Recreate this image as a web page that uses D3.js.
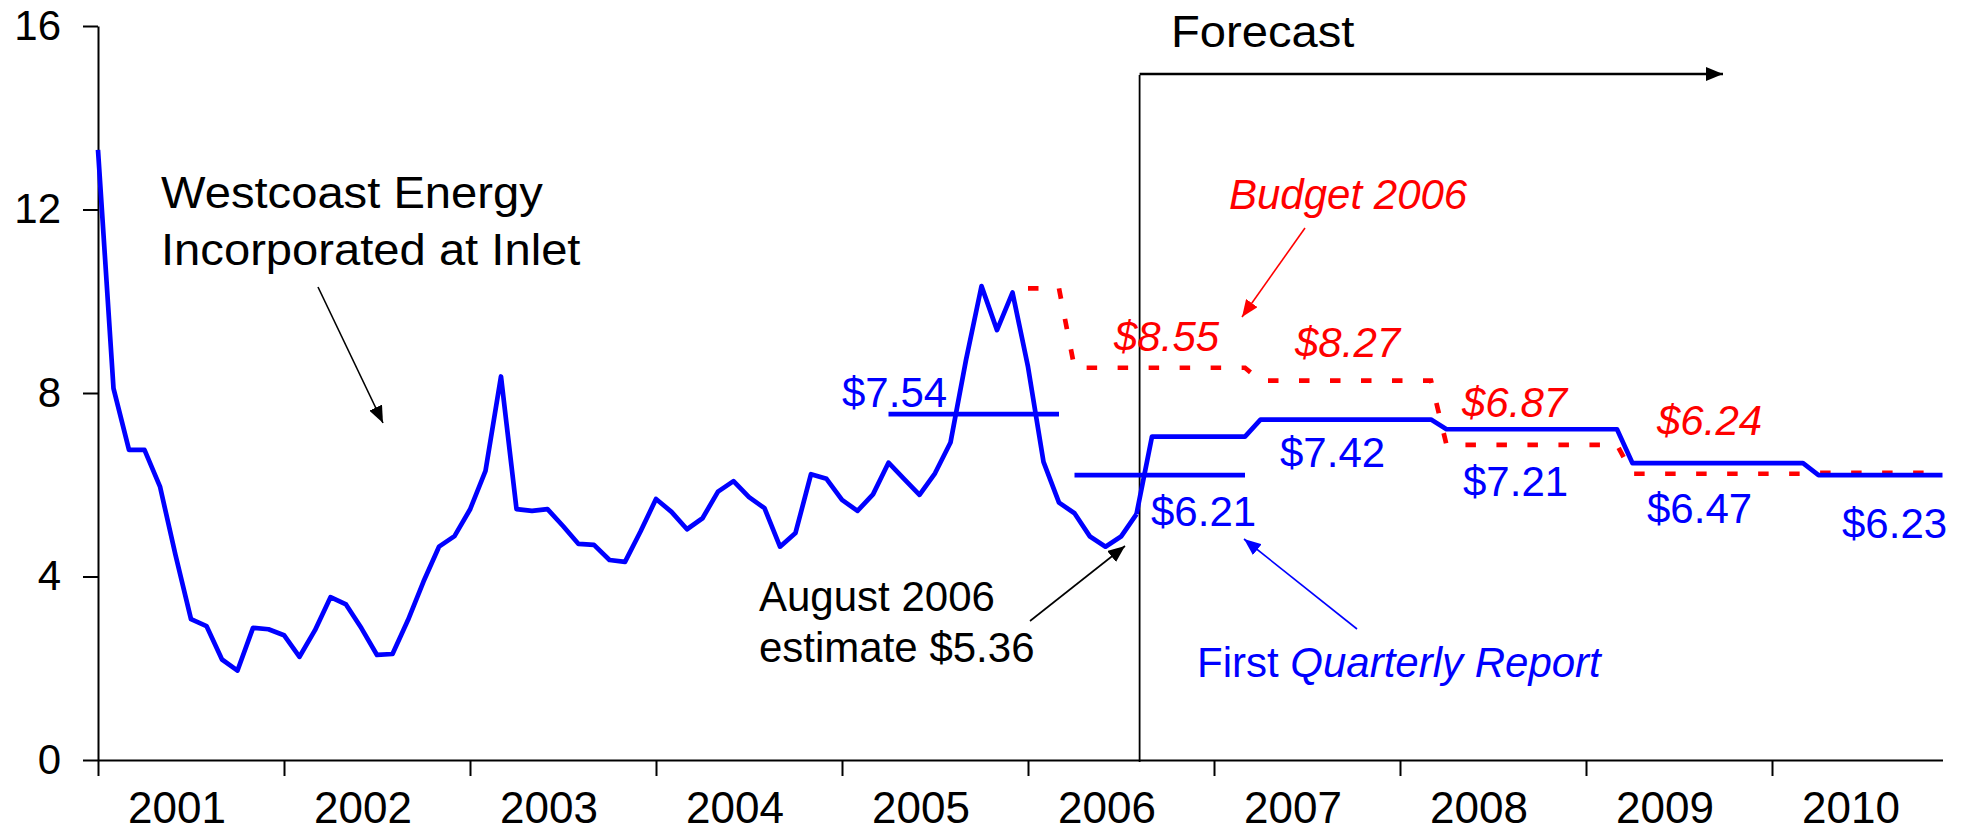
<!DOCTYPE html>
<html>
<head>
<meta charset="utf-8">
<script src="https://cdnjs.cloudflare.com/ajax/libs/d3/7.8.5/d3.min.js"></script>
<style>
  body { margin: 0; background: #fff; }
  text { font-family: "Liberation Sans", Arial, sans-serif; }
</style>
</head>
<body>
<script>
// monthly price, Jan 2001 .. Aug 2006 (index = months since Jan 2001)
const actual = [13.3, 8.1, 6.76, 6.76, 5.96, 4.47, 3.07, 2.92, 2.19, 1.95, 2.88, 2.85,
  2.72, 2.25, 2.83, 3.55, 3.39, 2.87, 2.29, 2.31, 3.05, 3.89, 4.65, 4.88,
  5.46, 6.3, 8.36, 5.47, 5.43, 5.47, 5.1, 4.71, 4.69, 4.36, 4.32, 4.98,
  5.69, 5.41, 5.03, 5.27, 5.85, 6.08, 5.73, 5.49, 4.65, 4.95, 6.23, 6.13,
  5.67, 5.43, 5.79, 6.48, 6.13, 5.78, 6.25, 6.92, 8.72, 10.33, 9.37, 10.19,
  8.57, 6.5, 5.61, 5.38, 4.87, 4.65, 4.87, 5.36]

// first quarterly report forecast (step breakpoints)
const fcMonths = [67, 68, 74, 75, 86, 87, 98, 99, 110, 111, 119]
const fcValues = [5.36, 7.05, 7.05, 7.42, 7.42, 7.21, 7.21, 6.47, 6.47, 6.21, 6.21]

// budget 2006 forecast
const budMonths = [60, 62, 63, 74, 75, 86, 87, 98, 99, 110, 111, 119]
const budValues = [10.28, 10.28, 8.55, 8.55, 8.27, 8.27, 6.87, 6.87, 6.24, 6.24, 6.26, 6.26]

// fiscal year averages
const avgStart = [51, 63]
const avgEnd = [62, 74]
const avgValues = [7.54, 6.21]

const years = ['2001', '2002', '2003', '2004', '2005', '2006', '2007', '2008', '2009', '2010']
const yTicks = [0, 4, 8, 12, 16]

var width = 1967, height = 832
var blue = '#0000ff', red = '#ff0000'

var svg = d3.select('body').append('svg')
  .attr('width', width)
  .attr('height', height)

var x = d3.scaleLinear().domain([0, 119]).range([98, 1942.5])
var y = d3.scaleLinear().domain([0, 16]).range([760, 26])

// arrow heads
var defs = svg.append('defs')
function head(id, color, w, l) {
  defs.append('marker')
    .attr('id', id)
    .attr('markerUnits', 'userSpaceOnUse')
    .attr('markerWidth', l).attr('markerHeight', w)
    .attr('refX', l).attr('refY', w / 2)
    .attr('orient', 'auto')
    .append('path')
    .attr('d', 'M0,0L' + l + ',' + (w / 2) + 'L0,' + w + 'Z')
    .attr('fill', color)
}
head('hb', 'black', 14, 17)
head('hr', red, 14, 17)
head('hu', blue, 14, 17)

// axes
var yAxis = d3.axisLeft(y).tickValues(yTicks).tickSize(15).tickSizeOuter(0).tickPadding(22)
var gy = svg.append('g').attr('transform', 'translate(' + x(0) + ',0)').call(yAxis)
gy.selectAll('text').attr('font-size', 42).attr('fill', 'black')
  .style('font-family', '"Liberation Sans", Arial, sans-serif')

var xAxis = d3.axisBottom(x).tickValues(d3.range(0, 109, 12)).tickFormat('').tickSize(16).tickSizeOuter(0)
var gx = svg.append('g').attr('transform', 'translate(0,' + y(0) + ')').call(xAxis)

svg.selectAll('.domain, .tick line').attr('stroke', 'black').attr('stroke-width', 2)

svg.append('g').selectAll('text').data(years).join('text')
  .attr('x', (d, i) => x(i * 12 + 5.1))
  .attr('y', 823)
  .attr('text-anchor', 'middle')
  .attr('font-size', 44)
  .text(d => d)

// forecast marker line + arrow
svg.append('line')
  .attr('x1', x(67.2)).attr('x2', x(67.2))
  .attr('y1', 75).attr('y2', 762)
  .attr('stroke', 'black').attr('stroke-width', 1.8)
svg.append('line')
  .attr('x1', x(67.2)).attr('x2', 1723)
  .attr('y1', 74).attr('y2', 74)
  .attr('stroke', 'black').attr('stroke-width', 2.6)
  .attr('marker-end', 'url(#hb)')

// lines
var line = d3.line().x(d => x(d[0])).y(d => y(d[1]))

svg.append('path')
  .datum(budMonths.map((m, i) => [m, budValues[i]]))
  .attr('d', line)
  .attr('fill', 'none').attr('stroke', red).attr('stroke-width', 4.7)
  .attr('stroke-dasharray', '10.5,20.5')

svg.append('path')
  .datum(actual.map((v, i) => [i, v]))
  .attr('d', line)
  .attr('fill', 'none').attr('stroke', blue).attr('stroke-width', 4.7)
  .attr('stroke-linejoin', 'round')

svg.append('path')
  .datum(fcMonths.map((m, i) => [m, fcValues[i]]))
  .attr('d', line)
  .attr('fill', 'none').attr('stroke', blue).attr('stroke-width', 4.7)
  .attr('stroke-linejoin', 'round')

svg.append('g').selectAll('line').data(avgValues).join('line')
  .attr('x1', (d, i) => x(avgStart[i])).attr('x2', (d, i) => x(avgEnd[i]))
  .attr('y1', d => y(d)).attr('y2', d => y(d))
  .attr('stroke', blue).attr('stroke-width', 4.7)

// annotations (sx = horizontal stretch, the source text is a bit wide)
function label(txt, px, py, color, size, italic, sx) {
  return svg.append('text')
    .attr('transform', 'translate(' + px + ',' + py + ') scale(' + (sx || 1) + ',1)')
    .attr('font-size', size)
    .attr('fill', color)
    .attr('font-style', italic ? 'italic' : 'normal')
    .text(txt)
}
function arrow(x1, y1, x2, y2, color, id) {
  svg.append('line')
    .attr('x1', x1).attr('y1', y1).attr('x2', x2).attr('y2', y2)
    .attr('stroke', color).attr('stroke-width', 1.6)
    .attr('marker-end', 'url(#' + id + ')')
}

label('Forecast', 1171, 47, 'black', 44.5, false, 1.06)
label('Westcoast Energy', 161, 208, 'black', 44.5, false, 1.06)
label('Incorporated at Inlet', 161, 265, 'black', 44.5, false, 1.06)
arrow(318, 287, 383, 423, 'black', 'hb')

label('August 2006', 759, 611, 'black', 42)
label('estimate $5.36', 759, 662, 'black', 42)
arrow(1030, 621, 1125, 546, 'black', 'hb')

label('Budget 2006', 1229, 209, red, 42, true)
arrow(1305, 228, 1242, 317, red, 'hr')
label('$8.55', 1114, 351, red, 42, true)
label('$8.27', 1295, 357, red, 42, true)
label('$6.87', 1462, 417, red, 42, true)
label('$6.24', 1657, 435, red, 42, true)

label('$7.54', 842, 407, blue, 42)
label('$6.21', 1151, 526, blue, 42)
label('$7.42', 1280, 467, blue, 42)
label('$7.21', 1463, 496, blue, 42)
label('$6.47', 1647, 523, blue, 42)
label('$6.23', 1842, 538, blue, 42)

var fq = label('First ', 1197, 677, blue, 42)
fq.append('tspan').attr('font-style', 'italic').text('Quarterly Report')
arrow(1357, 629, 1244, 539, blue, 'hu')
</script>
</body>
</html>
